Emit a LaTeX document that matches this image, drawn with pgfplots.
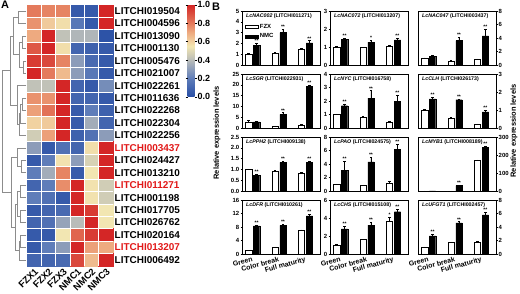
\documentclass[border=0pt]{standalone}
\usepackage{pgfplots}
\pgfplotsset{compat=1.18}
\usepackage{fontspec}
\setmainfont{Liberation Sans}
\definecolor{labred}{RGB}{225,25,25}
\definecolor{dendro}{RGB}{140,140,140}
\tikzset{ptitle/.style={anchor=west, font=\bfseries\fontsize{5.3}{6}\selectfont, inner sep=0pt}}
\pgfplotsset{
  colormap={hm}{rgb255(0cm)=(40,78,165); rgb255(2cm)=(95,125,185); rgb255(4cm)=(185,188,185); rgb255(5.5cm)=(242,230,178); rgb255(7cm)=(238,170,128); rgb255(8cm)=(228,122,92); rgb255(10cm)=(212,38,38)},
  bpanel/.style={
    scale only axis, width=78bp, height=54bp,
    xmin=0.6, xmax=3.55, ymin=0,
    xtick=\empty,
    axis line style={line width=0.5pt},
    tick align=outside, major tick length=1.5bp,
    ytick pos=left,
    tick style={line width=0.4pt, black},
    yticklabel style={font=\bfseries\fontsize{6}{6}\selectfont, inner sep=1pt},
    /pgf/number format/assume math mode=true,
    clip=false,
  },
  rightticks/.style={ytick pos=right, yticklabel pos=right},
  bottomlabels/.style={xtick={1,2,3}, xticklabels={Green,Color break,Full maturity}, xtick style={draw=none},
    xticklabel style={rotate=15, anchor=north east, font=\bfseries\fontsize{7}{7}\selectfont, inner sep=1pt}},
  errb/.style={error bars/y dir=plus, error bars/y explicit,
    error bars/error bar style={line width=0.4pt, black},
    error bars/error mark options={rotate=90, mark size=1.2bp, line width=0.4pt, black}},
  fzx/.style={ybar, bar width=0.24, bar shift=0, fill=white, draw=black, line width=0.4pt, errb},
  nmc/.style={ybar, bar width=0.24, bar shift=0, fill=black, draw=black, line width=0.4pt, errb},
  stars/.style={only marks, mark=none, point meta=explicit symbolic, nodes near coords,
    nodes near coords style={font=\bfseries\fontsize{5}{5}\selectfont, anchor=south, inner sep=0.4pt, black}},
}
\begin{document}
\begin{tikzpicture}
\path[use as bounding box] (0,0) rectangle (520bp,-294bp);
\node[anchor=north west, font=\bfseries\fontsize{11}{11}\selectfont, inner sep=0pt] at (1bp,-1bp) {A};
\node[anchor=north west, font=\bfseries\fontsize{11}{11}\selectfont, inner sep=0pt] at (212bp,-3bp) {B};

% ---------------- Heatmap ----------------
\begin{axis}[
  at={(27bp,-4.8bp)}, anchor=north west,
  scale only axis, width=86bp, height=261.2bp,
  xmin=-0.5, xmax=5.5, ymin=-0.5, ymax=20.5,
  y dir=reverse,
  clip=false, axis on top,
  axis line style={draw=none},
  major tick length=0pt, minor tick length=0pt,
  xtick={0,...,5}, xticklabels={FZX1,FZX2,FZX3,NMC1,NMC2,NMC3},
  xticklabel style={rotate=45, anchor=north east, font=\bfseries\fontsize{9.5}{10}\selectfont, inner sep=1pt},
  ytick={0,1,...,20},
  yticklabels={LITCHI019504,LITCHI004596,LITCHI013090,LITCHI001130,LITCHI005476,LITCHI021007,LITCHI022261,LITCHI011636,LITCHI022268,LITCHI022304,LITCHI022256,\textcolor{labred}{LITCHI003437},LITCHI024427,LITCHI013210,\textcolor{labred}{LITCHI011271},LITCHI001198,LITCHI017705,LITCHI026762,LITCHI020164,\textcolor{labred}{LITCHI013207},LITCHI006492},
  yticklabel pos=right,
  yticklabel style={font=\bfseries\fontsize{10}{10}\selectfont, inner sep=1.5pt},
  minor xtick={0.5,1.5,2.5,3.5,4.5},
  minor ytick={0.5,1.5,...,19.5},
  xminorgrids, yminorgrids, minor grid style={white, line width=0.6pt},
  colormap name=hm, point meta min=0, point meta max=1,
  colorbar,
  colorbar style={
    at={(parent axis.north east)}, anchor=north west, xshift=66bp,
    scale only axis, width=7bp, height=92bp,
    y dir=normal,
    ytick={0,0.2,0.4,0.6,0.8,1},
    axis line style={draw=none},
    major tick length=2bp, tick align=outside,
    tick style={black, line width=0.5pt},
    yticklabel style={font=\bfseries\fontsize{9}{10}\selectfont, inner sep=1pt,
      /pgf/number format/.cd, fixed, fixed zerofill, precision=1, assume math mode=true},
  },
]
\addplot[matrix plot, mesh/cols=6, point meta=explicit] coordinates {
(0,0)[0.80] (1,0)[0.78] (2,0)[0.78] (3,0)[0.05] (4,0)[0.05] (5,0)[1.00]
(0,1)[0.75] (1,1)[0.62] (2,1)[0.57] (3,1)[0.18] (4,1)[0.05] (5,1)[1.00]
(0,2)[0.70] (1,2)[1.00] (2,2)[0.42] (3,2)[0.38] (4,2)[0.38] (5,2)[0.02]
(0,3)[0.88] (1,3)[1.00] (2,3)[0.57] (3,3)[0.10] (4,3)[0.08] (5,3)[0.05]
(0,4)[0.95] (1,4)[0.92] (2,4)[0.78] (3,4)[0.30] (4,4)[0.12] (5,4)[0.05]
(0,5)[1.00] (1,5)[0.80] (2,5)[0.66] (3,5)[0.30] (4,5)[0.18] (5,5)[0.05]
(0,6)[0.42] (1,6)[0.42] (2,6)[1.00] (3,6)[0.10] (4,6)[0.05] (5,6)[0.25]
(0,7)[0.75] (1,7)[0.75] (2,7)[1.00] (3,7)[0.10] (4,7)[0.10] (5,7)[0.05]
(0,8)[0.72] (1,8)[0.82] (2,8)[1.00] (3,8)[0.05] (4,8)[0.20] (5,8)[0.08]
(0,9)[0.60] (1,9)[0.62] (2,9)[1.00] (3,9)[0.05] (4,9)[0.35] (5,9)[0.10]
(0,10)[0.46] (1,10)[0.72] (2,10)[1.00] (3,10)[0.08] (4,10)[0.15] (5,10)[0.30]
(0,11)[0.30] (1,11)[0.05] (2,11)[0.15] (3,11)[0.10] (4,11)[0.57] (5,11)[1.00]
(0,12)[0.05] (1,12)[0.20] (2,12)[0.56] (3,12)[0.30] (4,12)[0.48] (5,12)[1.00]
(0,13)[0.20] (1,13)[0.35] (2,13)[0.78] (3,13)[0.05] (4,13)[0.55] (5,13)[1.00]
(0,14)[0.10] (1,14)[0.20] (2,14)[0.76] (3,14)[1.00] (4,14)[0.56] (5,14)[0.46]
(0,15)[0.20] (1,15)[0.15] (2,15)[0.05] (3,15)[1.00] (4,15)[0.56] (5,15)[0.46]
(0,16)[0.05] (1,16)[0.10] (2,16)[0.12] (3,16)[1.00] (4,16)[0.95] (5,16)[0.55]
(0,17)[0.10] (1,17)[0.15] (2,17)[0.32] (3,17)[0.40] (4,17)[1.00] (5,17)[0.55]
(0,18)[0.05] (1,18)[0.05] (2,18)[0.55] (3,18)[0.85] (4,18)[0.95] (5,18)[1.00]
(0,19)[0.05] (1,19)[0.20] (2,19)[0.30] (3,19)[1.00] (4,19)[0.72] (5,19)[0.70]
(0,20)[0.10] (1,20)[0.10] (2,20)[0.12] (3,20)[0.92] (4,20)[0.66] (5,20)[1.00]
};
\addplot[dendro, line width=0.5pt, unbounded coords=jump] coordinates {
(-0.55,0) (-1.1,0) (-1.1,1) (-0.55,1) (nan,nan)
(-0.55,2) (-0.8,2) (-0.8,3) (-0.55,3) (nan,nan)
(-0.55,4) (-0.78,4) (-0.78,5) (-0.55,5) (nan,nan)
(-0.8,2.5) (-1.05,2.5) (-1.05,4.5) (-0.78,4.5) (nan,nan)
(-1.1,0.5) (-1.45,0.5) (-1.45,3.5) (-1.05,3.5) (nan,nan)
(-0.55,7) (-0.8,7) (-0.8,8) (-0.55,8) (nan,nan)
(-0.8,7.5) (-0.95,7.5) (-0.95,9) (-0.55,9) (nan,nan)
(-0.95,8.25) (-1.05,8.25) (-1.05,10) (-0.55,10) (nan,nan)
(-0.55,6) (-1.2,6) (-1.2,9.125) (-1.05,9.125) (nan,nan)
(-1.45,2) (-1.7,2) (-1.7,7.5625) (-1.2,7.5625) (nan,nan)
(-0.55,12) (-0.9,12) (-0.9,13) (-0.55,13) (nan,nan)
(-0.55,11) (-1.2,11) (-1.2,12.5) (-0.9,12.5) (nan,nan)
(-0.55,14) (-1.0,14) (-1.0,15) (-0.55,15) (nan,nan)
(-0.55,16) (-0.95,16) (-0.95,17) (-0.55,17) (nan,nan)
(-1.0,14.5) (-1.15,14.5) (-1.15,16.5) (-0.95,16.5) (nan,nan)
(-0.55,18) (-0.95,18) (-0.95,19) (-0.55,19) (nan,nan)
(-0.95,18.5) (-1.05,18.5) (-1.05,20) (-0.55,20) (nan,nan)
(-1.15,15.5) (-1.3,15.5) (-1.3,19.25) (-1.05,19.25) (nan,nan)
(-1.2,11.75) (-1.6,11.75) (-1.6,17.375) (-1.3,17.375) (nan,nan)
(-1.7,4.78) (-2.2,4.78) (-2.2,14.56) (-1.6,14.56)
};
\end{axis}

% ---------------- Panel B ----------------
\node[rotate=90, font=\bfseries\fontsize{7.5}{8}\selectfont, inner sep=0pt] at (217bp,-133bp) {Relative expression levels};
\node[rotate=90, font=\bfseries\fontsize{7.5}{8}\selectfont, inner sep=0pt] at (514bp,-131bp) {Relative expression levels};

% Row 1
\begin{axis}[bpanel, at={(242bp,-11bp)}, anchor=north west, ymax=5, ytick={0,1,2,3,4,5},
  legend image code/.code={\draw[#1] (0bp,-1.6bp) rectangle (13bp,1.6bp);},
  legend style={at={(rel axis cs:0.03,0.80)}, anchor=north west, draw=none, fill=none, font=\bfseries\fontsize{6}{6}\selectfont, inner sep=0pt, row sep=0pt, cells={anchor=west}}]
\addplot[forget plot, fzx] coordinates {(0.85,1.0) +- (0,0.05) (1.85,1.12) +- (0,0.05) (2.85,1.48) +- (0,0.05)};
\addplot[forget plot, nmc] coordinates {(1.15,1.85) +- (0,0.15) (2.15,3.0) +- (0,0.3) (3.15,2.05) +- (0,0.2)};
\addplot[forget plot, stars] coordinates {(1.15,2.0)[**] (2.15,3.3)[**] (3.15,2.25)[**]};
\addlegendimage{draw=black, fill=white, line width=0.4pt}
\addlegendentry{FZX}
\addlegendimage{draw=black, fill=black, line width=0.4pt}
\addlegendentry{NMC}
\node[ptitle] at (rel axis cs:0.05,0.9) {\textit{LcNAC002} (LITCHI011271)};
\end{axis}

\begin{axis}[bpanel, at={(330bp,-11bp)}, anchor=north west, ymax=3, ytick={0,1,2,3}]
\addplot[fzx] coordinates {(0.85,1.0) +- (0,0.03) (1.85,0.97) +- (0,0.03) (2.85,1.05) +- (0,0.03)};
\addplot[nmc] coordinates {(1.15,1.42) +- (0,0.07) (2.15,1.27) +- (0,0.1) (3.15,1.4) +- (0,0.07)};
\addplot[stars] coordinates {(1.15,1.49)[**] (2.15,1.37)[*] (3.15,1.47)[**]};
\node[ptitle] at (rel axis cs:0.05,0.9) {\textit{LcNAC072} (LITCHI013207)};
\end{axis}

\begin{axis}[bpanel, rightticks, at={(418bp,-11bp)}, anchor=north west, ymax=8, ytick={0,2,4,6,8}]
\addplot[fzx] coordinates {(0.85,1.0) +- (0,0.08) (1.85,0.6) +- (0,0.05) (2.85,0.85) +- (0,0.05)};
\addplot[nmc] coordinates {(1.15,1.3) +- (0,0.08) (2.15,3.6) +- (0,0.5) (3.15,4.3) +- (0,1.0)};
\addplot[stars] coordinates {(2.15,4.1)[**] (3.15,5.3)[**]};
\node[ptitle] at (rel axis cs:0.05,0.9) {\textit{LcNAC047} (LITCHI003437)};
\end{axis}

% Row 2
\begin{axis}[bpanel, at={(242bp,-74bp)}, anchor=north west, ymax=25, ytick={0,5,10,15,20,25}]
\addplot[fzx] coordinates {(0.85,2.8) +- (0,0.6) (1.85,0.8) +- (0,0.2) (2.85,1.4) +- (0,0.2)};
\addplot[nmc] coordinates {(1.15,2.8) +- (0,0.4) (2.15,6.3) +- (0,0.8) (3.15,19.2) +- (0,0.8)};
\addplot[stars] coordinates {(2.15,7.1)[**] (3.15,20.0)[**]};
\node[ptitle] at (rel axis cs:0.05,0.9) {\textit{LcSGR} (LITCHI022931)};
\end{axis}

\begin{axis}[bpanel, at={(330bp,-74bp)}, anchor=north west, ymax=4, ytick={0,1,2,3,4}]
\addplot[fzx] coordinates {(0.85,1.0) +- (0,0.05) (1.85,0.82) +- (0,0.07) (2.85,0.45) +- (0,0.05)};
\addplot[nmc] coordinates {(1.15,1.65) +- (0,0.15) (2.15,2.22) +- (0,0.55) (3.15,1.95) +- (0,0.5)};
\addplot[stars] coordinates {(1.15,1.8)[**] (2.15,2.77)[**] (3.15,2.45)[**]};
\node[ptitle] at (rel axis cs:0.05,0.9) {\textit{LcNYC} (LITCHI016758)};
\end{axis}

\begin{axis}[bpanel, rightticks, at={(418bp,-74bp)}, anchor=north west, ymax=3, ytick={0,1,2,3}]
\addplot[fzx] coordinates {(0.85,1.0) +- (0,0.03) (1.85,0.55) +- (0,0.04) (2.85,0.2) +- (0,0.03)};
\addplot[nmc] coordinates {(1.15,1.62) +- (0,0.1) (2.15,1.57) +- (0,0.05) (3.15,0.9) +- (0,0.1)};
\addplot[stars] coordinates {(1.15,1.72)[**] (2.15,1.62)[**] (3.15,1.0)[**]};
\node[ptitle] at (rel axis cs:0.05,0.9) {\textit{LcCLH} (LITCHI026173)};
\end{axis}

% Row 3
\begin{axis}[bpanel, at={(242bp,-137bp)}, anchor=north west, ymax=2.5, ytick={0,0.5,1,1.5,2,2.5},
  yticklabel style={/pgf/number format/.cd, fixed, fixed zerofill, precision=1}]
\addplot[fzx] coordinates {(0.85,1.0) +- (0,0.03) (1.85,0.93) +- (0,0.03) (2.85,0.83) +- (0,0.03)};
\addplot[nmc] coordinates {(1.15,0.73) +- (0,0.05) (2.15,1.33) +- (0,0.05) (3.15,1.32) +- (0,0.05)};
\addplot[stars] coordinates {(1.15,0.78)[**] (2.15,1.38)[**] (3.15,1.37)[**]};
\node[ptitle] at (rel axis cs:0.05,0.9) {\textit{LcPPH2} (LITCHI009138)};
\end{axis}

\begin{axis}[bpanel, at={(330bp,-137bp)}, anchor=north west, ymax=8, ytick={0,2,4,6,8}]
\addplot[fzx] coordinates {(0.85,1.0) +- (0,0.05) (1.85,0.85) +- (0,0.05) (2.85,1.15) +- (0,0.25)};
\addplot[nmc] coordinates {(1.15,3.1) +- (0,1.3) (2.15,4.3) +- (0,0.7) (3.15,6.2) +- (0,0.7)};
\addplot[stars] coordinates {(1.15,4.4)[**] (2.15,5.0)[**] (3.15,6.9)[**]};
\node[ptitle] at (rel axis cs:0.05,0.9) {\textit{LcPAO} (LITCHI024575)};
\end{axis}

\begin{axis}[bpanel, rightticks, at={(418bp,-137bp)}, anchor=north west, ymax=300, ytick={0,100,200,300}]
\addplot[fzx] coordinates {(0.85,1.0) +- (0,0) (1.85,0.6) +- (0,0) (2.85,170) +- (0,3)};
\addplot[nmc] coordinates {(1.15,1.0) +- (0,0) (2.15,30) +- (0,3) (3.15,243) +- (0,8)};
\addplot[stars] coordinates {(2.15,33)[**] (3.15,251)[**]};
\node[ptitle] at (rel axis cs:0.05,0.9) {\textit{LcMYB1} (LITCHI008189)};
\end{axis}

% Row 4
\begin{axis}[bpanel, bottomlabels, at={(242bp,-200bp)}, anchor=north west, ymax=16, ytick={0,4,8,12,16}]
\addplot[fzx] coordinates {(0.85,1.0) +- (0,0.1) (1.85,2.0) +- (0,0.1) (2.85,7.0) +- (0,0.2)};
\addplot[nmc] coordinates {(1.15,8.3) +- (0,0.3) (2.15,8.5) +- (0,0.3) (3.15,11.3) +- (0,0.4)};
\addplot[stars] coordinates {(1.15,8.6)[**] (2.15,8.8)[**] (3.15,11.7)[**]};
\node[ptitle] at (rel axis cs:0.05,0.9) {\textit{LcDFR} (LITCHI010261)};
\end{axis}

\begin{axis}[bpanel, bottomlabels, at={(330bp,-200bp)}, anchor=north west, ymax=6, ytick={0,2,4,6}]
\addplot[fzx] coordinates {(0.85,1.0) +- (0,0.05) (1.85,1.6) +- (0,0.05) (2.85,3.6) +- (0,0.5)};
\addplot[nmc] coordinates {(1.15,2.8) +- (0,0.3) (2.15,3.2) +- (0,0.3) (3.15,4.7) +- (0,0.3)};
\addplot[stars] coordinates {(2.85,4.1)[*] (1.15,3.1)[**] (2.15,3.5)[**] (3.15,5.0)[**]};
\node[ptitle] at (rel axis cs:0.05,0.9) {\textit{LcCHS} (LITCHI015108)};
\end{axis}

\begin{axis}[bpanel, bottomlabels, rightticks, at={(418bp,-200bp)}, anchor=north west, ymax=8, ytick={0,2,4,6,8}]
\addplot[fzx] coordinates {(0.85,1.0) +- (0,0.05) (1.85,1.7) +- (0,0.1) (2.85,1.75) +- (0,0.08)};
\addplot[nmc] coordinates {(1.15,2.7) +- (0,0.2) (2.15,4.6) +- (0,0.2) (3.15,5.8) +- (0,0.4)};
\addplot[stars] coordinates {(1.15,2.9)[**] (2.15,4.8)[**] (3.15,6.2)[**]};
\node[ptitle] at (rel axis cs:0.05,0.9) {\textit{LcUFGT1} (LITCHI002457)};
\end{axis}
\end{tikzpicture}
\end{document}
